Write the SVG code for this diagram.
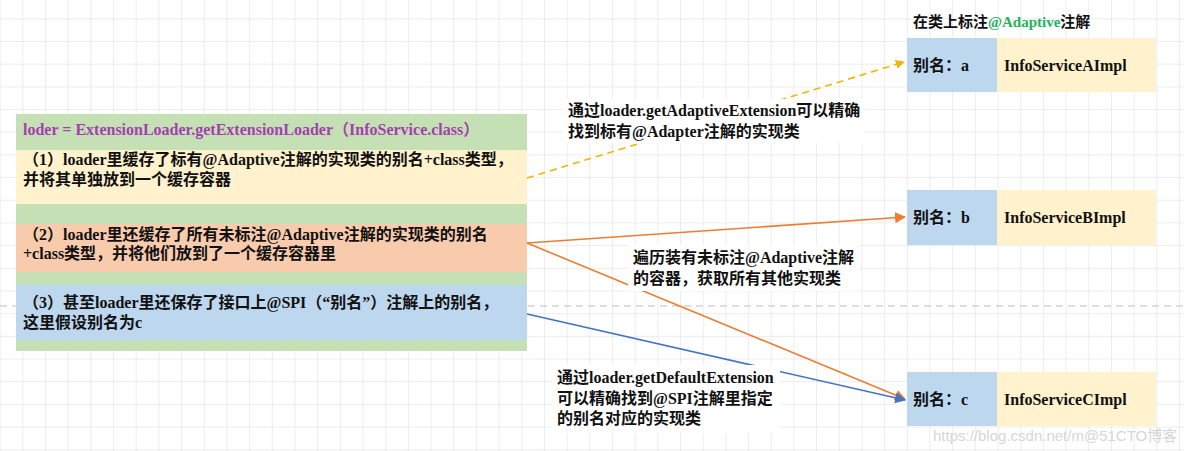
<svg xmlns="http://www.w3.org/2000/svg" width="1184" height="451" viewBox="0 0 1184 451">
<style>
text{font-family:"Liberation Serif","Noto Sans CJK SC",serif;font-weight:bold;font-size:16px;fill:#111}
.title{fill:#a43fb0}
.green{fill:#22b35e}
.small{font-size:15px}
.wm{fill:#d6d6d6;font-family:"Liberation Sans","Noto Sans CJK SC",sans-serif;font-weight:normal;font-size:15px}
.conn{fill:none;stroke-width:1.6}
</style>
<defs>
<pattern id="grid" width="22.68" height="22.68" patternUnits="userSpaceOnUse" x="22.3" y="18.3">
<path d="M0 0V22.68M0 0H22.68" fill="none" stroke="#dcdcdc" stroke-width="1"/>
</pattern>
<marker id="ay" viewBox="0 0 10 10" refX="9" refY="5" markerWidth="9" markerHeight="9" markerUnits="userSpaceOnUse" orient="auto"><path d="M0 0L10 5L0 10z" fill="#f5b400"/></marker>
<marker id="ao" viewBox="0 0 10 10" refX="9" refY="5" markerWidth="11" markerHeight="11" markerUnits="userSpaceOnUse" orient="auto"><path d="M0 0L10 5L0 10z" fill="#ed7d31"/></marker>
<marker id="ab" viewBox="0 0 10 10" refX="9" refY="5" markerWidth="11" markerHeight="11" markerUnits="userSpaceOnUse" orient="auto"><path d="M0 0L10 5L0 10z" fill="#4472c4"/></marker>
</defs>
<rect width="1184" height="451" fill="#fff"/>
<rect width="1184" height="451" fill="url(#grid)"/>
<line x1="0" y1="306" x2="1184" y2="306" stroke="#bdbdbd" stroke-width="1.2" stroke-dasharray="7 5"/>

<g id="loader">
<rect x="16" y="114" width="511" height="237" fill="#c5e0b4"/>
<rect x="16" y="150" width="511" height="54" fill="#fff2cc"/>
<rect x="16" y="224" width="511" height="48" fill="#f8cbad"/>
<rect x="16" y="285" width="511" height="55" fill="#bdd7ee"/>
<text class="title" x="23" y="135">loder = ExtensionLoader.getExtensionLoader（InfoService.class）</text>
<text x="23" y="165">（1）loader里缓存了标有@Adaptive注解的实现类的别名+class类型，</text>
<text x="23" y="185">并将其单独放到一个缓存容器</text>
<text x="23" y="240">（2）loader里还缓存了所有未标注@Adaptive注解的实现类的别名</text>
<text x="23" y="259">+class类型，并将他们放到了一个缓存容器里</text>
<text x="23" y="308">（3）甚至loader里还保存了接口上@SPI（“别名”）注解上的别名，</text>
<text x="23" y="328">这里假设别名为c</text>
</g>

<g id="connectors">
<line class="conn" x1="527" y1="178" x2="904" y2="62" stroke="#f5b400" stroke-dasharray="7 5" marker-end="url(#ay)"/>
<line class="conn" x1="527" y1="243" x2="905" y2="217" stroke="#ed7d31" marker-end="url(#ao)"/>
<line class="conn" x1="527" y1="243" x2="905" y2="399" stroke="#ed7d31" marker-end="url(#ao)"/>
<line class="conn" x1="527" y1="314" x2="905" y2="400" stroke="#4472c4" marker-end="url(#ab)"/>
</g>

<g id="label-adaptive">
<rect x="563" y="99" width="302" height="44" fill="#fff"/>
<text x="568" y="116">通过loader.getAdaptiveExtension可以精确</text>
<text x="568" y="137">找到标有@Adapter注解的实现类</text>
</g>
<g id="label-traverse">
<rect x="628" y="245" width="232" height="46" fill="#fff"/>
<text x="633" y="263">遍历装有未标注@Adaptive注解</text>
<text x="633" y="284">的容器，获取所有其他实现类</text>
</g>
<g id="label-default">
<rect x="552" y="365" width="228" height="68" fill="#fff"/>
<text x="557" y="383">通过loader.getDefaultExtension</text>
<text x="557" y="404">可以精确找到@SPI注解里指定</text>
<text x="557" y="424">的别名对应的实现类</text>
</g>

<g id="node-a">
<text class="small" x="913" y="27">在类上标注<tspan class="green">@Adaptive</tspan>注解</text>
<rect x="907" y="38" width="90" height="54" fill="#bdd7ee"/>
<rect x="997" y="38" width="159" height="54" fill="#fff2cc"/>
<text x="913" y="71">别名：a</text>
<text x="1004" y="71">InfoServiceAImpl</text>
</g>
<g id="node-b">
<rect x="907" y="190" width="90" height="55" fill="#bdd7ee"/>
<rect x="997" y="190" width="159" height="55" fill="#fff2cc"/>
<text x="913" y="223">别名：b</text>
<text x="1004" y="223">InfoServiceBImpl</text>
</g>
<g id="node-c">
<rect x="907" y="372" width="90" height="54" fill="#bdd7ee"/>
<rect x="997" y="372" width="159" height="54" fill="#fff2cc"/>
<text x="913" y="405">别名：c</text>
<text x="1004" y="405">InfoServiceCImpl</text>
</g>
<g id="watermark">
<text class="wm" x="933" y="441">https://blog.csdn.net/m@51CTO博客</text>
</g>
</svg>
